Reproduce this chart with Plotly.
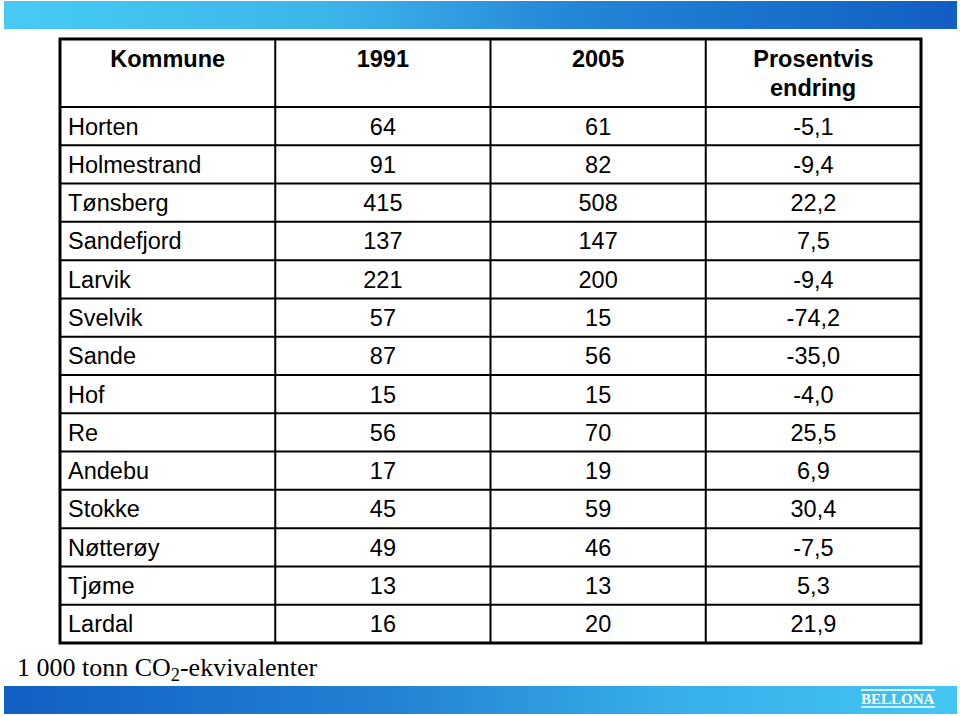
import plotly.graph_objects as go

# table data
kommuner = ["Horten", "Holmestrand", "Tønsberg", "Sandefjord", "Larvik", "Svelvik", "Sande",
            "Hof", "Re", "Andebu", "Stokke", "Nøtterøy", "Tjøme", "Lardal"]
utslipp_1991 = [64, 91, 415, 137, 221, 57, 87, 15, 56, 17, 45, 49, 13, 16]
utslipp_2005 = [61, 82, 508, 147, 200, 15, 56, 15, 70, 19, 59, 46, 13, 20]
endring = ["-5,1", "-9,4", "22,2", "7,5", "-9,4", "-74,2", "-35,0",
           "-4,0", "25,5", "6,9", "30,4", "-7,5", "5,3", "21,9"]
headers = ["Kommune", "1991", "2005", "Prosentvis"]
header_line2 = "endring"
footnote = "1 000 tonn CO<sub>2</sub>-ekvivalenter"

W, H = 960, 716
x0, x1 = 60, 921
y_top, y_bot = 39, 643
header_h = 68
n_rows = len(kommuner)
row_h = (y_bot - y_top - header_h) / n_rows
col_w = (x1 - x0) / 4
font = dict(family="Liberation Sans, Arial", size=23.5, color="black")
no_line = dict(color="rgba(0,0,0,0)", width=0)
clear = "rgba(0,0,0,0)"

fig = go.Figure()

# header row
fig.add_trace(go.Table(
    domain=dict(x=[x0 / W, x1 / W], y=[1 - (y_top + header_h) / H, 1 - (y_top - 1) / H]),
    header=dict(values=[f"<b>{h}</b>" for h in headers], align="center", height=header_h,
                fill_color="white", line=no_line, font=font),
))

# data rows; the empty header of this table is transparent and only pushes the text down
empty_head = 17
fig.add_trace(go.Table(
    domain=dict(x=[x0 / W, x1 / W],
                y=[1 - (y_bot + 12) / H, 1 - (y_top + header_h + 3 - empty_head) / H]),
    header=dict(values=[], fill_color=clear, line=no_line),
    cells=dict(
        values=[kommuner, utslipp_1991, utslipp_2005, endring],
        align=["left", "center", "center", "center"],
        height=row_h,
        fill_color=clear,
        line=no_line,
        font=font,
    ),
))

# gradient banners top and bottom
steps = list(range(60))
fig.add_trace(go.Heatmap(
    z=[steps], x=steps, y=[0], xaxis="x2", yaxis="y2", showscale=False, zsmooth="best",
    colorscale=[[0, "#47cbf4"], [0.35, "#3bb4ea"], [0.6, "#2386d6"], [1, "#125ec4"]],
    hoverinfo="skip",
))
fig.add_trace(go.Heatmap(
    z=[steps], x=steps, y=[0], xaxis="x3", yaxis="y3", showscale=False, zsmooth="best",
    colorscale=[[0, "#135fc4"], [0.4, "#2282d4"], [0.7, "#37aee8"], [1, "#44c6f2"]],
    hoverinfo="skip",
))

hidden = dict(visible=False, fixedrange=True)
fig.update_layout(
    width=W, height=H,
    margin=dict(l=0, r=0, t=0, b=0),
    paper_bgcolor="white", plot_bgcolor="white",
    xaxis2=dict(domain=[4 / W, 957 / W], anchor="y2", range=[0, 59], **hidden),
    yaxis2=dict(domain=[1 - 29 / H, 1 - 1 / H], anchor="x2", range=[-0.5, 0.5], **hidden),
    xaxis3=dict(domain=[4 / W, 957 / W], anchor="y3", range=[0, 59], **hidden),
    yaxis3=dict(domain=[1 - 714 / H, 1 - 686 / H], anchor="x3", range=[-0.5, 0.5], **hidden),
    showlegend=False,
)

# grid lines
for i in range(n_rows):
    yy = 1 - (y_top + header_h + i * row_h) / H
    fig.add_shape(type="line", xref="paper", yref="paper", x0=x0 / W, x1=x1 / W, y0=yy, y1=yy,
                  line=dict(color="black", width=2))
for j in range(1, 4):
    xx = (x0 + j * col_w) / W
    fig.add_shape(type="line", xref="paper", yref="paper", x0=xx, x1=xx,
                  y0=1 - y_bot / H, y1=1 - y_top / H, line=dict(color="black", width=2))
fig.add_shape(type="rect", xref="paper", yref="paper",
              x0=x0 / W, x1=x1 / W, y0=1 - y_bot / H, y1=1 - y_top / H,
              line=dict(color="black", width=3))

fig.add_annotation(text=f"<b>{header_line2}</b>", xref="paper", yref="paper",
                   x=(x0 + 3.5 * col_w) / W, y=1 - 88 / H, xanchor="center", yanchor="middle",
                   showarrow=False, font=font)

fig.add_annotation(text=footnote, xref="paper", yref="paper", x=15 / W, y=1 - 687 / H,
                   xanchor="left", yanchor="bottom", showarrow=False,
                   font=dict(family="Liberation Serif, Times New Roman", size=26, color="black"))

# Bellona logo
fig.add_annotation(text="<b>BELLONA</b>", xref="paper", yref="paper", x=898 / W, y=1 - 699 / H,
                   xanchor="center", yanchor="middle", showarrow=False,
                   font=dict(family="Liberation Serif, Times New Roman", size=15, color="white"))
for yy in (690, 707):
    fig.add_shape(type="line", xref="paper", yref="paper", x0=861 / W, x1=935 / W,
                  y0=1 - yy / H, y1=1 - yy / H, line=dict(color="white", width=1.5))

fig.write_html("out.html", config={"displayModeBar": False},
               post_script="document.body.style.margin='0';")
